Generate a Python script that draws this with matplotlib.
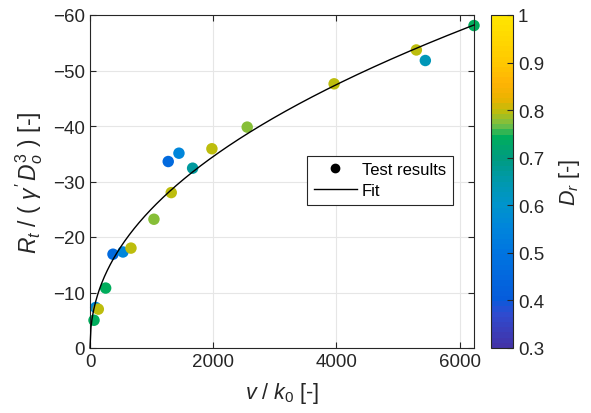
import matplotlib
matplotlib.use('Agg')
import matplotlib.pyplot as plt
import numpy as np
from matplotlib.colors import LinearSegmentedColormap
from matplotlib.lines import Line2D

plt.rcParams['font.family'] = ['Liberation Sans', 'DejaVu Sans']
plt.rcParams['mathtext.fontset'] = 'custom'
plt.rcParams['mathtext.rm'] = 'Liberation Sans'
plt.rcParams['mathtext.it'] = 'Liberation Sans:italic'

# test results: normalised velocity, normalised resistance, relative density
v_k0 = [65, 92, 135, 254, 373, 535, 665, 1038, 1270, 1319, 1444, 1666, 1979, 2552, 3963, 5298, 5444, 6234]
rt_norm = [-5.0, -7.3, -7.0, -10.8, -16.9, -17.3, -18.0, -23.2, -33.6, -28.0, -35.1, -32.4, -35.9, -39.8, -47.6, -53.7, -51.8, -58.1]
d_r = [0.74, 0.57, 0.80, 0.74, 0.46, 0.56, 0.80, 0.78, 0.46, 0.80, 0.56, 0.67, 0.80, 0.78, 0.80, 0.80, 0.63, 0.74]

# power-law fit R = a * (v/k0)^b
fit_a = -58.2 / 6234 ** 0.46
fit_b = 0.46

cmap = LinearSegmentedColormap.from_list('dr', [
    (0.00, (0.26, 0.20, 0.66)),
    (0.10, (0.18, 0.30, 0.82)),
    (0.143, (0.02, 0.36, 0.86)),
    (0.286, (0.00, 0.46, 0.88)),
    (0.357, (0.00, 0.52, 0.86)),
    (0.429, (0.00, 0.58, 0.80)),
    (0.50, (0.00, 0.60, 0.68)),
    (0.571, (0.00, 0.61, 0.50)),
    (0.636, (0.00, 0.68, 0.36)),
    (0.671, (0.45, 0.75, 0.28)),
    (0.714, (0.74, 0.74, 0.05)),
    (0.75, (0.92, 0.70, 0.00)),
    (0.80, (1.00, 0.70, 0.02)),
    (0.857, (1.00, 0.78, 0.00)),
    (1.00, (1.00, 0.90, 0.00)),
], N=64)

fig = plt.figure(figsize=(5.91, 4.14), dpi=100)
ax = fig.add_axes([90 / 591, 1 - 349 / 414, 384 / 591, 333 / 414])
cax = fig.add_axes([491 / 591, 1 - 349 / 414, 22 / 591, 333 / 414])

sc = ax.scatter(v_k0, rt_norm, c=d_r, cmap=cmap, vmin=0.3, vmax=1, s=68, linewidths=0, zorder=2, clip_on=False)
xf = np.linspace(0, max(v_k0), 400)
ax.plot(xf, fit_a * xf ** fit_b, color='k', lw=1, zorder=3, clip_on=False)

ax.set_xlim(0, max(v_k0))
ax.set_ylim(0, -60)
ax.set_xticks([0, 2000, 4000, 6000])
ax.set_yticks([0, -10, -20, -30, -40, -50, -60])
ax.grid(True, color='0.9', lw=0.8)
ax.set_axisbelow(True)
ax.tick_params(direction='in', top=True, right=True, labelsize=13.5, colors='0.15', length=4, width=0.8)
for s in ax.spines.values():
    s.set_color('0.15')
    s.set_linewidth(0.8)

ax.set_xlabel(r'$v$ / $k_0$ [-]', fontsize=15.5, color='0.15', labelpad=7)
ax.set_ylabel(r"$R_t$ / ( $\gamma' \, D_o^3$ ) [-]", fontsize=16.5, color='0.15', labelpad=6)

handles = [Line2D([], [], marker='o', color='k', ls='none', markersize=6),
           Line2D([], [], color='k', lw=1)]
leg = ax.legend(handles, ['Test results', 'Fit'], loc='upper left', bbox_to_anchor=(0.565, 0.578),
                fontsize=12, frameon=True, fancybox=False, framealpha=1, edgecolor='0.15',
                handlelength=2.6, borderpad=0.4, labelspacing=0.35, handletextpad=0.3, borderaxespad=0)
leg.get_frame().set_linewidth(0.8)

cb = fig.colorbar(sc, cax=cax, ticks=[0.3, 0.4, 0.5, 0.6, 0.7, 0.8, 0.9, 1])
cb.ax.set_yticklabels(['0.3', '0.4', '0.5', '0.6', '0.7', '0.8', '0.9', '1'])
cb.ax.tick_params(direction='in', labelsize=13.5, colors='0.15', length=4, width=0.8)
cb.outline.set_edgecolor('0.15')
cb.outline.set_linewidth(0.8)
cb.set_label(r'$D_r$ [-]', fontsize=15.5, color='0.15', labelpad=9)

fig.savefig('out.png', dpi=100)
